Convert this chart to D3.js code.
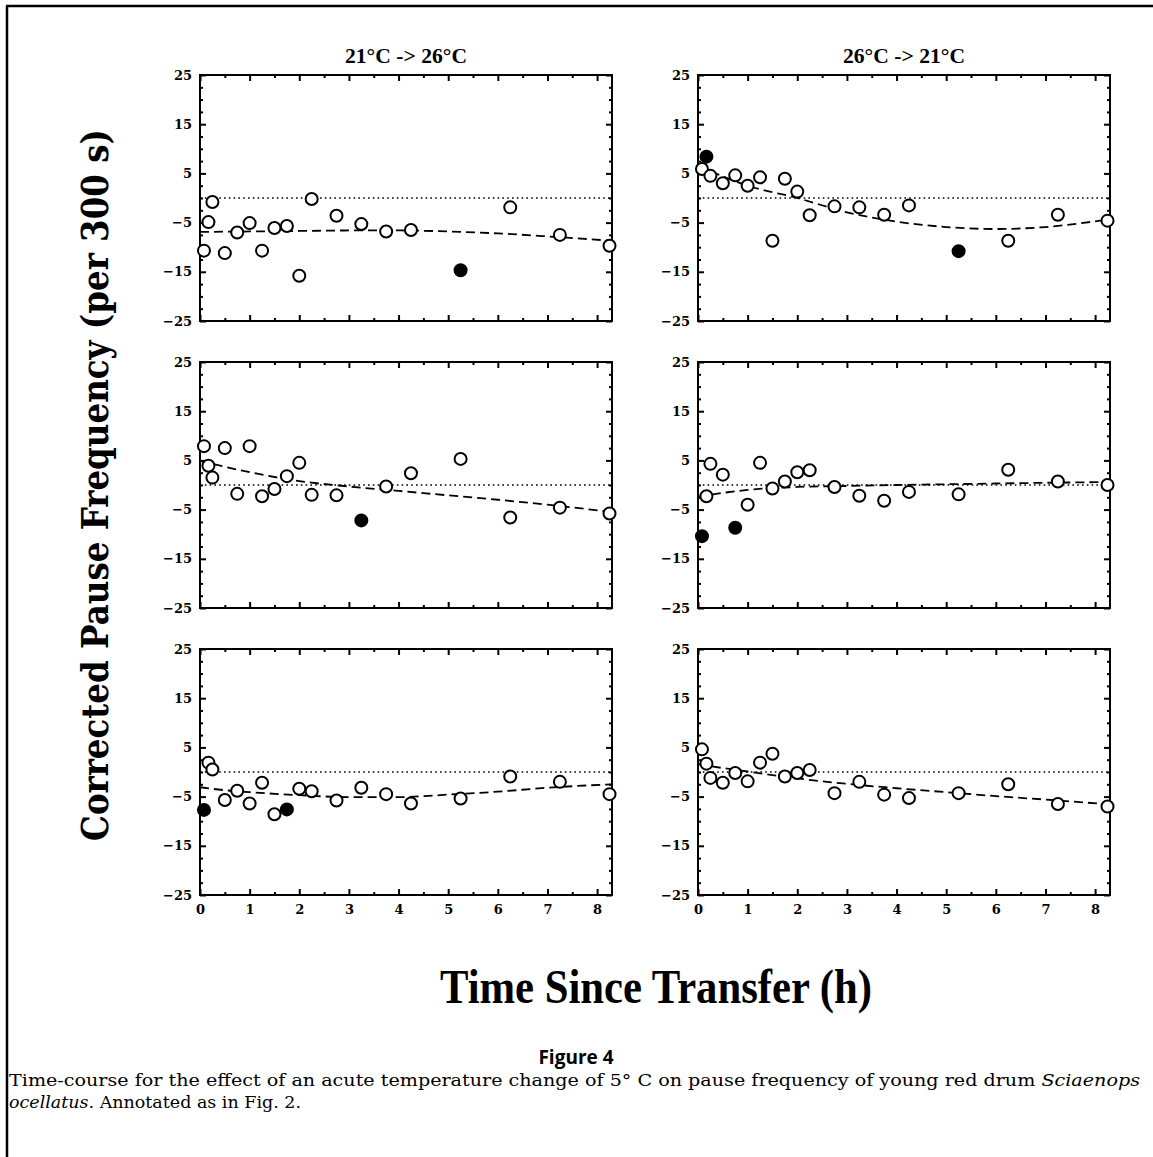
<!DOCTYPE html>
<html>
<head>
<meta charset="utf-8">
<script src="https://cdn.jsdelivr.net/npm/d3@7/dist/d3.min.js"></script>
<style>
  body { margin: 0; background: #fff; }
  svg { display: block; }
</style>
</head>
<body>
<div id="chart"></div>
<script>
// sampling times (h after transfer)
var times = [0.08, 0.17, 0.25, 0.5, 0.75, 1, 1.25, 1.5, 1.75, 2, 2.25, 2.75, 3.25, 3.75, 4.25, 5.25, 6.25, 7.25, 8.25];
// corrected pause frequency per panel
var upWarm1 = [-10.7, -4.9, -0.8, -11.2, -7.0, -5.1, -10.7, -6.1, -5.7, -15.8, -0.2, -3.6, -5.3, -6.8, -6.5, -14.7, -1.9, -7.5, -9.7];
var downCool1 = [5.9, 8.4, 4.5, 3.0, 4.6, 2.5, 4.2, -8.7, 3.9, 1.3, -3.5, -1.7, -1.9, -3.4, -1.5, -10.8, -8.7, -3.4, -4.6];
var upWarm2 = [7.9, 3.9, 1.5, 7.5, -1.8, 7.9, -2.3, -0.8, 1.8, 4.5, -2.0, -2.1, -7.2, -0.3, 2.4, 5.3, -6.6, -4.6, -5.8];
var downCool2 = [-10.4, -2.3, 4.3, 2.1, -8.7, -4.0, 4.5, -0.7, 0.7, 2.6, 3.0, -0.4, -2.2, -3.2, -1.4, -1.9, 3.1, 0.7, 0.0];
var upWarm3 = [-7.7, 1.9, 0.5, -5.7, -3.8, -6.4, -2.2, -8.6, -7.6, -3.4, -3.9, -5.8, -3.2, -4.5, -6.4, -5.4, -0.9, -2.0, -4.5];
var downCool3 = [4.6, 1.7, -1.2, -2.2, -0.2, -1.9, 1.9, 3.7, -0.9, -0.2, 0.4, -4.3, -2.0, -4.6, -5.3, -4.3, -2.5, -6.5, -7.0];
// indices of the filled (outlier) points
var filled1L = [15], filled1R = [1, 15];
var filled2L = [12], filled2R = [0, 4];
var filled3L = [0, 8], filled3R = [];
// dashed fitted curves
var fitTimes = [0, 0.5, 1, 2, 3, 4, 5, 6, 7, 8.3];
var fit1L = [-6.9, -6.85, -6.8, -6.7, -6.6, -6.6, -6.8, -7.2, -7.8, -8.7];
var fit1R = [6.5, 4.4, 2.5, 0, -2.9, -4.8, -5.9, -6.3, -5.9, -4.3];
var fit2L = [4.9, 3.7, 2.6, 0.8, -0.3, -1.2, -2.1, -3.0, -4.0, -5.5];
var fit2R = [-2.4, -1.6, -1.0, -0.4, -0.2, 0.0, 0.15, 0.3, 0.45, 0.6];
var fit3L = [-3.1, -3.7, -4.1, -4.7, -5.1, -5.1, -4.6, -4.0, -3.2, -2.5];
var fit3R = [1.6, 0.8, 0.1, -1.3, -2.4, -3.3, -4.1, -4.9, -5.6, -6.6];

var colTitles = ["21\u00B0C -> 26\u00B0C", "26\u00B0C -> 21\u00B0C"];
var yMajor = [-25, -15, -5, 5, 15, 25];
var xMajor = [0, 1, 2, 3, 4, 5, 6, 7, 8];

var panels = [
  { row: 0, col: 0, vals: upWarm1, filled: filled1L, fit: fit1L },
  { row: 0, col: 1, vals: downCool1, filled: filled1R, fit: fit1R },
  { row: 1, col: 0, vals: upWarm2, filled: filled2L, fit: fit2L },
  { row: 1, col: 1, vals: downCool2, filled: filled2R, fit: fit2R },
  { row: 2, col: 0, vals: upWarm3, filled: filled3L, fit: fit3L },
  { row: 2, col: 1, vals: downCool3, filled: filled3R, fit: fit3R }
];

var W = 1153, H = 1157;
var colX = [200, 698], rowY = [75, 362, 649];
var pw = 412, ph = 246;

var svg = d3.select("#chart").append("svg").attr("width", W).attr("height", H);

// outer frame (top and left edges of the page)
svg.append("path").attr("d", "M6,6H1153M7,6V1157").attr("fill", "none").attr("stroke", "#000").attr("stroke-width", 2.5);

var x = d3.scaleLinear().domain([0, 8.3]).range([0, pw]);
var y = d3.scaleLinear().domain([-25, 25]).range([ph, 0]);
var xMinor = d3.range(0.5, 8.3, 1);
var yMinor = d3.range(-25, 25.01, 2.5).filter(function(v) { return yMajor.indexOf(v) < 0; });

var line = d3.line().x(function(d) { return x(d[0]); }).y(function(d) { return y(d[1]); }).curve(d3.curveMonotoneX);

function styleLabels(sel) {
  sel.selectAll("text")
    .attr("font-family", "DejaVu Serif, serif")
    .attr("font-weight", "bold")
    .attr("font-size", 13)
    .attr("fill", "#000");
}

panels.forEach(function(p) {
  var g = svg.append("g").attr("transform", "translate(" + colX[p.col] + "," + rowY[p.row] + ")");

  // inward ticks on all four sides
  g.append("g").call(d3.axisLeft(y).tickValues(yMajor).tickSize(-6).tickPadding(8).tickFormat(d3.format("d"))).call(styleLabels);
  g.append("g").call(d3.axisLeft(y).tickValues(yMinor).tickSize(-3).tickFormat(""));
  g.append("g").attr("transform", "translate(" + pw + ",0)").call(d3.axisRight(y).tickValues(yMajor).tickSize(-6).tickFormat(""));
  g.append("g").attr("transform", "translate(" + pw + ",0)").call(d3.axisRight(y).tickValues(yMinor).tickSize(-3).tickFormat(""));
  var bottom = d3.axisBottom(x).tickValues(xMajor).tickSize(-6).tickPadding(10).tickFormat(p.row === 2 ? d3.format("d") : "");
  g.append("g").attr("transform", "translate(0," + ph + ")").call(bottom).call(styleLabels);
  g.append("g").attr("transform", "translate(0," + ph + ")").call(d3.axisBottom(x).tickValues(xMinor).tickSize(-3).tickFormat(""));
  g.append("g").call(d3.axisTop(x).tickValues(xMajor).tickSize(-6).tickFormat(""));
  g.append("g").call(d3.axisTop(x).tickValues(xMinor).tickSize(-3).tickFormat(""));
  g.selectAll(".domain").remove();
  g.selectAll(".tick line").attr("stroke", "#000").attr("stroke-width", 2);

  g.append("rect").attr("width", pw).attr("height", ph)
    .attr("fill", "none").attr("stroke", "#000").attr("stroke-width", 2);

  // zero reference
  g.append("line").attr("x1", 0).attr("x2", pw).attr("y1", y(0)).attr("y2", y(0))
    .attr("stroke", "#000").attr("stroke-width", 1.6).attr("stroke-dasharray", "1.6,3.2");

  // fitted curve
  g.append("path").datum(d3.zip(fitTimes, p.fit)).attr("d", line)
    .attr("fill", "none").attr("stroke", "#000").attr("stroke-width", 1.8).attr("stroke-dasharray", "9,5");

  g.selectAll("circle").data(d3.zip(times, p.vals)).enter().append("circle")
    .attr("cx", function(d) { return x(d[0]); })
    .attr("cy", function(d) { return y(d[1]); })
    .attr("r", 6)
    .attr("fill", function(d, i) { return p.filled.indexOf(i) >= 0 ? "#000" : "#fff"; })
    .attr("stroke", "#000").attr("stroke-width", 2);

  if (p.row === 0) {
    g.append("text").attr("x", pw / 2).attr("y", -12).attr("text-anchor", "middle")
      .attr("font-family", "Liberation Serif, serif").attr("font-weight", "bold").attr("font-size", 21)
      .attr("textLength", 122).attr("lengthAdjust", "spacingAndGlyphs")
      .text(colTitles[p.col]);
  }
});

// axis titles
svg.append("text").attr("transform", "translate(108,485) rotate(-90)").attr("text-anchor", "middle")
  .attr("font-family", "DejaVu Serif, serif").attr("font-weight", "bold").attr("font-size", 37)
  .attr("textLength", 712).attr("lengthAdjust", "spacingAndGlyphs")
  .text("Corrected Pause Frequency (per 300 s)");

svg.append("text").attr("x", 656).attr("y", 1003).attr("text-anchor", "middle")
  .attr("font-family", "Liberation Serif, serif").attr("font-weight", "bold").attr("font-size", 48)
  .attr("textLength", 432).attr("lengthAdjust", "spacingAndGlyphs")
  .text("Time Since Transfer (h)");

// caption
svg.append("text").attr("x", 576).attr("y", 1064).attr("text-anchor", "middle")
  .attr("font-family", "Open Sans, sans-serif").attr("font-weight", "bold").attr("font-size", 19)
  .text("Figure 4");

var cap = svg.append("text").attr("font-family", "DejaVu Serif, serif").attr("font-size", 16.5);
var l1 = cap.append("tspan").attr("x", 9).attr("y", 1086)
  .attr("textLength", 1131).attr("lengthAdjust", "spacingAndGlyphs");
l1.append("tspan").text("Time-course for the effect of an acute temperature change of 5\u00B0 C on pause frequency of young red drum ");
l1.append("tspan").attr("font-style", "italic").text("Sciaenops");
var l2 = cap.append("tspan").attr("x", 9).attr("y", 1108)
  .attr("textLength", 292).attr("lengthAdjust", "spacingAndGlyphs");
l2.append("tspan").attr("font-style", "italic").text("ocellatus");
l2.append("tspan").text(". Annotated as in Fig. 2.");
</script>
</body>
</html>
